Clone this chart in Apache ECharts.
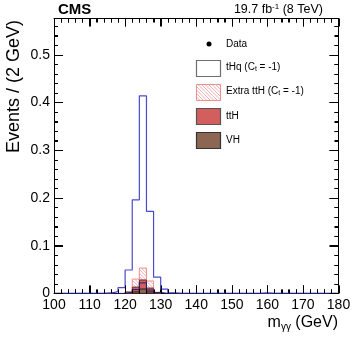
<!DOCTYPE html>
<html>
<head>
<meta charset="utf-8">
<script src="https://cdn.jsdelivr.net/npm/echarts@6/dist/echarts.min.js"></script>
<style>
html,body{margin:0;padding:0;background:#fff;}
#chart{width:357px;height:346px;}
</style>
</head>
<body>
<div id="chart"></div>
<script>
// Bin lower edges (2 GeV bins from 100 to 180)
const binEdges = [100,102,104,106,108,110,112,114,116,118,120,122,124,126,128,130,132,134,136,138,
                  140,142,144,146,148,150,152,154,156,158,160,162,164,166,168,170,172,174,176,178];
const binWidth = 2;
// tHq (C_t = -1) line histogram
const tHq = [0,0,0,0,0,0,0,0,0.004,0.012,0.049,0.196,0.414,0.172,0.034,0.009,0.001,0,0,0,
             0,0,0,0,0,0,0,0,0,0,0,0,0,0,0,0,0,0,0,0];
// stacked components: VH (bottom), ttH, Extra ttH (C_t = -1)
const vh = [0,0,0,0,0,0,0,0,0,0,0,0.003,0.009,0.003,0,0,0,0,0,0,
            0,0,0,0,0,0,0,0,0,0,0,0,0,0,0,0,0,0,0,0];
const ttH = [0,0,0,0,0,0,0,0,0,0,0.003,0.010,0.019,0.008,0.002,0,0,0,0,0,
             0,0,0,0,0,0,0,0,0,0,0,0,0,0,0,0,0,0,0,0];
const extraTtH = [0,0,0,0,0,0,0,0,0,0,0,0.017,0.025,0.015,0,0,0,0,0,0,
                  0,0,0,0,0,0,0,0,0,0,0,0,0,0,0,0,0,0,0,0];
// dark outline histogram (small contributions)
const darkLine = [0,0,0,0,0,0,0,0.001,0,0,0.002,0.008,0.022,0.007,0.002,0,0,0,0,0,
                  0,0,0,0,0,0,0,0,0,0.001,0,0,0,0,0,0,0,0,0,0];
const xTicks = [100,110,120,130,140,150,160,170,180];
const yTicks = [0,0.1,0.2,0.3,0.4,0.5];

const xMin = 100, xMax = 180, yMin = 0, yMax = 0.576;
const xMinorStep = 2, yMinorStep = 0.02;

// diagonal "\" hatch lines clipped to a rectangle (pixel space)
function hatchLines(x0, y0, w, h, gap, color) {
  const x1 = x0 + w, y1 = y0 + h, out = [];
  // lines y = x - c
  for (let c = x0 - y1; c <= x1 - y0; c += gap) {
    const xs = Math.max(x0, y0 + c), xe = Math.min(x1, y1 + c);
    if (xe - xs > 0.3) out.push({type: 'line', silent: true,
      shape: {x1: xs, y1: xs - c, x2: xe, y2: xe - c}, style: {stroke: color, lineWidth: 0.8}});
  }
  return out;
}

function stackRects(lower, vals) {
  const out = [];
  for (let i = 0; i < binEdges.length; i++) {
    if (vals[i] > 0) out.push([binEdges[i], binEdges[i] + binWidth, lower[i], lower[i] + vals[i]]);
  }
  return out;
}
const zeros = binEdges.map(() => 0);
const vhTop = vh.slice();
const ttHTop = vh.map((v, i) => v + ttH[i]);
function stepData(vals) {
  const d = binEdges.map((e, i) => [e, vals[i]]);
  d.push([xMax, 0]);
  return d;
}
function rectSeries(name, data, fill, stroke, z, hatched) {
  return {
    type: 'custom', name: name, z: z, data: data,
    encode: {x: [0, 1], y: [2, 3]},
    renderItem: function (params, api) {
      const p0 = api.coord([api.value(0), api.value(3)]);
      const p1 = api.coord([api.value(1), api.value(2)]);
      const w = p1[0] - p0[0], h = p1[1] - p0[1];
      const children = [{type: 'rect', shape: {x: p0[0], y: p0[1], width: w, height: h},
        style: {fill: fill, stroke: hatched ? null : stroke, lineWidth: 1}}];
      if (hatched) {
        hatchLines(p0[0], p0[1], w, h, 3.5, '#ee9a9a').forEach(l => children.push(l));
        children.push({type: 'rect', shape: {x: p0[0], y: p0[1], width: w, height: h},
          style: {fill: null, stroke: stroke, lineWidth: 1}});
      }
      return {type: 'group', children: children};
    },
    silent: true
  };
}

// tick marks on all four frame sides (value, axis kind 0=x 1=y, major flag)
const tickData = [];
for (let v = xMin; v <= xMax + 1e-9; v += xMinorStep) {
  tickData.push([v, 0, xTicks.indexOf(Math.round(v)) >= 0 ? 1 : 0]);
}
for (let k = 0; k * yMinorStep <= yMax + 1e-9; k++) {
  tickData.push([+(k * yMinorStep).toFixed(3), 1, (k % 5 === 0) ? 1 : 0]);
}
const tickSeries = {
  type: 'custom', name: 'ticks', z: 20, silent: true, data: tickData,
  renderItem: function (params, api) {
    const v = api.value(0), kind = api.value(1), major = api.value(2) === 1;
    const st = {stroke: '#000', lineWidth: 1};
    if (kind === 0) {
      const len = major ? 8 : 4;
      const b = api.coord([v, yMin]), t = api.coord([v, yMax]);
      const x = Math.round(b[0]) + 0.5;
      return {type: 'group', children: [
        {type: 'line', shape: {x1: x, y1: b[1], x2: x, y2: b[1] - len}, style: st},
        {type: 'line', shape: {x1: x, y1: t[1], x2: x, y2: t[1] + len}, style: st}
      ]};
    }
    const len = major ? 9 : 4;
    const l = api.coord([xMin, v]), r = api.coord([xMax, v]);
    const y = Math.round(l[1]) + 0.5;
    return {type: 'group', children: [
      {type: 'line', shape: {x1: l[0], y1: y, x2: l[0] + len, y2: y}, style: st},
      {type: 'line', shape: {x1: r[0], y1: y, x2: r[0] - len, y2: y}, style: st}
    ]};
  }
};

const font = 'Liberation Sans, Arial, sans-serif';
function xAxisDef(pos, labels) {
  return {
    type: 'value', min: xMin, max: xMax, interval: 10, position: pos,
    axisLine: {show: true, onZero: false, lineStyle: {color: '#000', width: 1}},
    axisTick: {show: true, inside: true, length: 8, lineStyle: {color: '#000'}},
    minorTick: {show: true, splitNumber: 5, length: 4, lineStyle: {color: '#000'}},
    splitLine: {show: false},
    axisLabel: labels ? {show: true, color: '#000', fontSize: 14, fontFamily: font, margin: 5} : {show: false}
  };
}
function yAxisDef(pos, labels) {
  return {
    type: 'value', min: yMin, max: yMax, interval: 0.1, position: pos,
    axisLine: {show: true, onZero: false, lineStyle: {color: '#000', width: 1}},
    axisTick: {show: true, inside: true, length: 9, lineStyle: {color: '#000'}},
    minorTick: {show: true, splitNumber: 5, length: 4, lineStyle: {color: '#000'}},
    splitLine: {show: false},
    axisLabel: labels ? {show: true, color: '#000', fontSize: 14, fontFamily: font, margin: 4,
      showMaxLabel: false,
      formatter: v => {
        const r = Math.round(v * 10) / 10;
        return (Math.abs(v - r) < 1e-6 && yTicks.indexOf(r) >= 0) ? String(r) : '';
      }} : {show: false}
  };
}

const legendHatch = hatchLines(196.5, 84.5, 24, 16, 3.5, '#ee9a9a');

const chart = echarts.init(document.getElementById('chart'));
chart.setOption({
  animation: false,
  grid: {left: 54, right: 18.5, top: 18.5, bottom: 52.6},
  xAxis: [xAxisDef('bottom', true), xAxisDef('top', false)],
  yAxis: [yAxisDef('left', true), yAxisDef('right', false)],
  series: [
    {
      type: 'line', name: 'tHq (C_t = -1)', step: 'end', data: stepData(tHq),
      symbol: 'none', z: 2,
      lineStyle: {color: '#4b4bcf', width: 1.2}, silent: true
    },
    rectSeries('Extra ttH (C_t = -1)', stackRects(ttHTop, extraTtH), '#fff', '#ee8f8f', 3, true),
    rectSeries('ttH', stackRects(vhTop, ttH), '#d35e5e', '#6a3030', 4, false),
    rectSeries('VH', stackRects(zeros, vh), '#8c6553', '#3a2a25', 5, false),
    {
      type: 'line', name: 'dark', step: 'end', data: stepData(darkLine),
      symbol: 'none', z: 6,
      lineStyle: {color: '#1c1c78', width: 1}, silent: true
    },
    tickSeries
  ],
  graphic: [
    {type: 'text', left: 58, top: 2, style: {text: 'CMS', font: 'bold 15px ' + font, fill: '#000'}},
    {type: 'text', x: 323, y: 10, style: {
      text: '{n|19.7 fb}{s|-1}{n| (8 TeV)}', align: 'right', verticalAlign: 'middle',
      rich: {n: {font: '12.5px ' + font, fill: '#000'}, s: {font: '8px ' + font, fill: '#000', padding: [0,0,6,0]}}
    }},
    {type: 'text', x: 14, y: 20, rotation: Math.PI / 2, style: {
      text: 'Events / (2 GeV)', font: '18px ' + font, fill: '#000', align: 'right', verticalAlign: 'middle'}},
    {type: 'text', x: 338, y: 323, style: {
      text: '{n|m}{s|γγ}{n| (GeV)}', align: 'right', verticalAlign: 'middle',
      rich: {n: {font: '16px ' + font, fill: '#000'}, s: {font: '10px ' + font, fill: '#000', padding: [8,0,0,0]}}
    }},
    {type: 'circle', shape: {cx: 209, cy: 44, r: 2.5}, style: {fill: '#000'}},
    {type: 'text', x: 226, y: 44, style: {text: 'Data', font: '10px ' + font, fill: '#000', verticalAlign: 'middle'}},
    {type: 'rect', shape: {x: 196.5, y: 60.5, width: 24, height: 16}, style: {fill: '#fff', stroke: '#6e6e6e', lineWidth: 1.2}},
    {type: 'text', x: 226, y: 67, style: {text: '{n|tHq (C}{s|t}{n| = -1)}', verticalAlign: 'middle',
      rich: {n: {font: '10px ' + font, fill: '#000'}, s: {font: '7px ' + font, fill: '#000', padding: [5,0,0,0]}}}},
    {type: 'group', children: legendHatch.concat([
      {type: 'rect', shape: {x: 196.5, y: 84.5, width: 24, height: 16}, style: {fill: null, stroke: '#ee8f8f', lineWidth: 1}}
    ])},
    {type: 'text', x: 226, y: 91, style: {text: '{n|Extra ttH (C}{s|t}{n| = -1)}', verticalAlign: 'middle',
      rich: {n: {font: '10px ' + font, fill: '#000'}, s: {font: '7px ' + font, fill: '#000', padding: [5,0,0,0]}}}},
    {type: 'rect', shape: {x: 196.5, y: 108.5, width: 24, height: 16}, style: {fill: '#d35e5e', stroke: '#555', lineWidth: 1.2}},
    {type: 'text', x: 226, y: 116, style: {text: 'ttH', font: '10px ' + font, fill: '#000', verticalAlign: 'middle'}},
    {type: 'rect', shape: {x: 196.5, y: 132.5, width: 24, height: 16}, style: {fill: '#8c6553', stroke: '#333', lineWidth: 1.2}},
    {type: 'text', x: 226, y: 140, style: {text: 'VH', font: '10px ' + font, fill: '#000', verticalAlign: 'middle'}}
  ]
});
</script>
</body>
</html>
